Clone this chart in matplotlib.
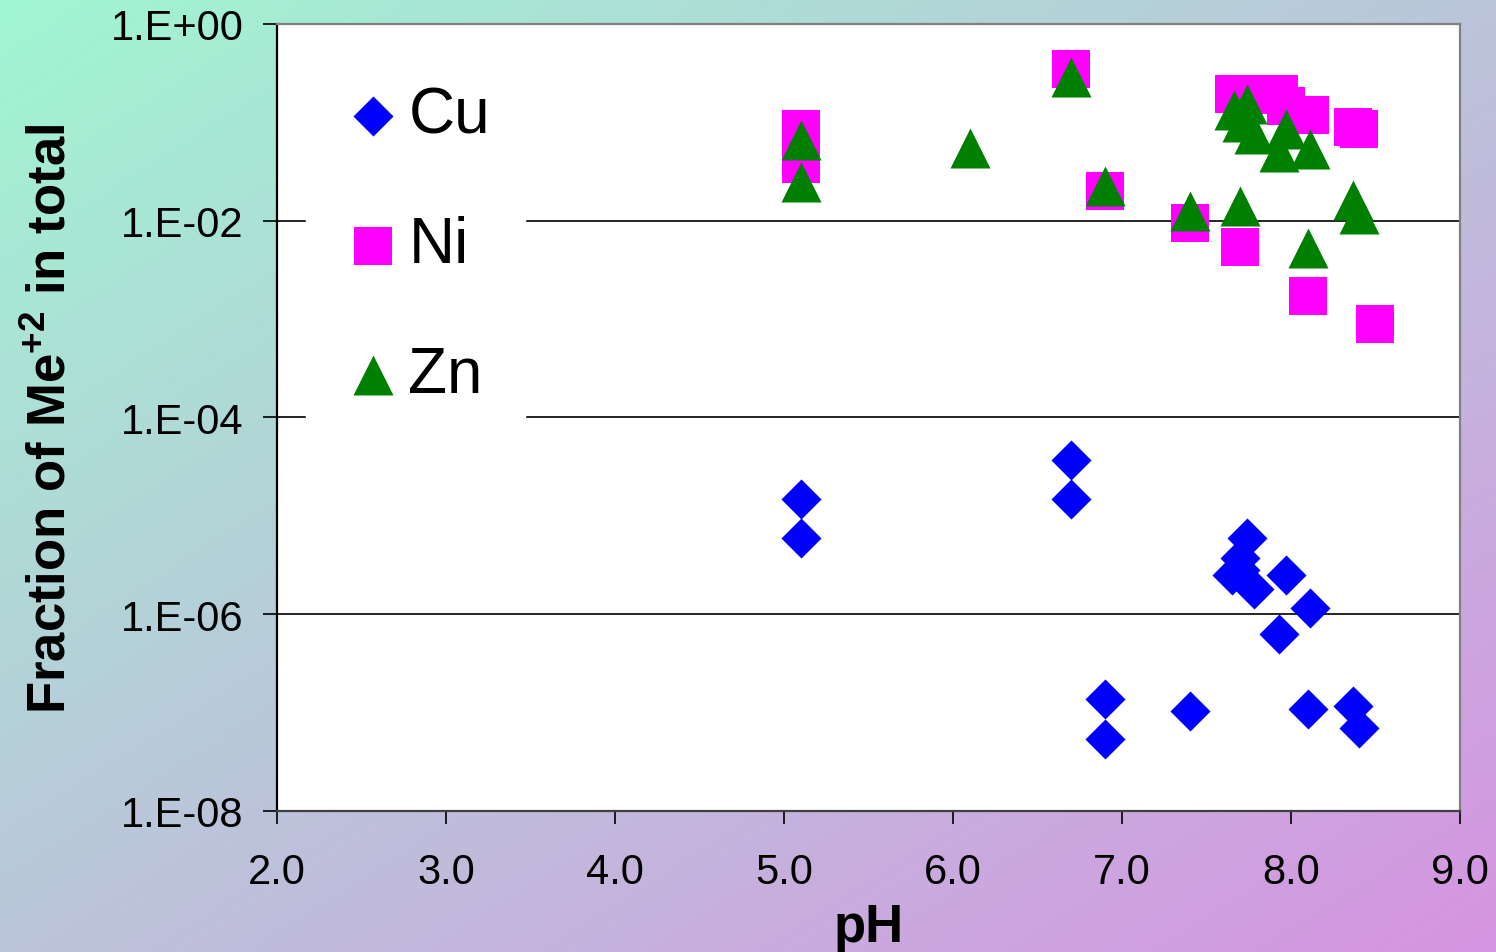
import numpy as np
import matplotlib
matplotlib.use("Agg")
import matplotlib.pyplot as plt
from matplotlib.ticker import FixedLocator, FixedFormatter

plt.rcParams['font.family'] = ['Liberation Sans', 'DejaVu Sans']
plt.rcParams['mathtext.fontset'] = 'custom'
plt.rcParams['mathtext.rm'] = 'Liberation Sans'
plt.rcParams['mathtext.bf'] = 'Liberation Sans:bold'

# data
cu_ph = [5.10, 5.10, 6.70, 6.70, 6.90, 6.90, 7.40, 7.65, 7.70, 7.74, 7.78, 7.70,
         7.97, 8.11, 7.93, 8.10, 8.37, 8.40]
cu_frac = [1.49e-5, 6.0e-6, 3.7e-5, 1.49e-5, 1.38e-7, 5.4e-8, 1.04e-7, 2.5e-6, 3.7e-6,
           6.0e-6, 1.8e-6, 2.8e-6, 2.5e-6, 1.16e-6, 6.3e-7, 1.09e-7, 1.17e-7, 7.0e-8]

ni_ph = [5.10, 5.10, 6.70, 6.90, 7.40, 7.70, 8.10, 8.50, 8.37, 8.40, 7.66, 7.74,
         7.85, 7.93, 7.97, 8.11]
ni_frac = [0.0857, 0.0378, 0.35, 0.0201, 0.0095, 0.0054, 0.00172, 8.9e-4, 0.089, 0.085,
           0.194, 0.194, 0.19, 0.194, 0.147, 0.119]

zn_ph = [5.10, 5.10, 6.10, 6.70, 6.90, 7.40, 7.70, 8.10, 8.37, 8.40, 7.66, 7.74,
         7.71, 7.78, 7.97, 7.93, 8.11]
zn_frac = [0.066, 0.0248, 0.055, 0.29, 0.0225, 0.0126, 0.0141, 0.0053, 0.0162, 0.0117,
           0.134, 0.154, 0.101, 0.076, 0.086, 0.050, 0.054]

x_ticks = [2.0, 3.0, 4.0, 5.0, 6.0, 7.0, 8.0, 9.0]
y_ticks = [1e-8, 1e-6, 1e-4, 1e-2, 1e0]
y_labels = ["1.E-08", "1.E-06", "1.E-04", "1.E-02", "1.E+00"]

fig = plt.figure(figsize=(14.96, 9.53), dpi=100)

# diagonal gradient background
bg = fig.add_axes([0, 0, 1, 1], zorder=-10)
h, w = 200, 300
yy, xx = np.mgrid[0:h, 0:w]
t = (xx / (w - 1) + yy / (h - 1)) / 2.0
c0 = np.array([160, 246, 210]) / 255.0
c1 = np.array([214, 148, 226]) / 255.0
img = c0[None, None, :] * (1 - t[..., None]) + c1[None, None, :] * t[..., None]
bg.imshow(img, aspect='auto', extent=[0, 1, 0, 1], origin='upper')
bg.axis('off')

ax = fig.add_axes([0.1852, 0.1480, 0.7907, 0.8258])
ax.set_facecolor('white')

ax.scatter(cu_ph, cu_frac, marker='D', s=20.4**2, color='#0000FF', linewidths=0,
           label='Cu', zorder=3)
ax.scatter(ni_ph, ni_frac, marker='s', s=28**2, color='#FF00FF', linewidths=0,
           label='Ni', zorder=4)
ax.scatter(zn_ph, zn_frac, marker='^', s=28.8**2, color='#008000', linewidths=0,
           label='Zn', zorder=5)

ax.set_yscale('log')
ax.set_xlim(2.0, 9.0)
ax.set_ylim(1e-8, 1e0)
ax.yaxis.set_major_locator(FixedLocator(y_ticks))
ax.yaxis.set_major_formatter(FixedFormatter(y_labels))
ax.yaxis.set_minor_locator(FixedLocator([]))
ax.set_xticks(x_ticks)
ax.set_xticklabels([f"{v:.1f}" for v in x_ticks])

for v in [1e-6, 1e-4, 1e-2]:
    ax.axhline(v, color='black', lw=1.2, zorder=1)

ax.tick_params(axis='both', direction='out', labelsize=30, colors='black')
ax.tick_params(axis='y', length=10, width=1.2, pad=14)
ax.tick_params(axis='x', length=9.5, width=1.2, pad=20)

ax.spines['left'].set_color('black')
ax.spines['bottom'].set_color('#404040')
ax.spines['top'].set_color('#808080')
ax.spines['right'].set_color('#808080')
for sp in ax.spines.values():
    sp.set_linewidth(1.6)

ax.set_xlabel('pH', fontsize=38, fontweight='bold', labelpad=7)
ax.set_ylabel(r'Fraction of Me$^{\mathbf{+2}}$ in total', fontsize=38,
              fontweight='bold', labelpad=25)

leg = ax.legend(loc='upper left', bbox_to_anchor=(-0.0025, 1.0066), fontsize=46,
                frameon=True, fancybox=False, edgecolor='white', facecolor='white',
                framealpha=1, labelspacing=1.09, handletextpad=0.05,
                handlelength=1.0, borderpad=0.55, markerscale=1.0)
leg.set_zorder(2)

fig.savefig('out.png', dpi=100)
